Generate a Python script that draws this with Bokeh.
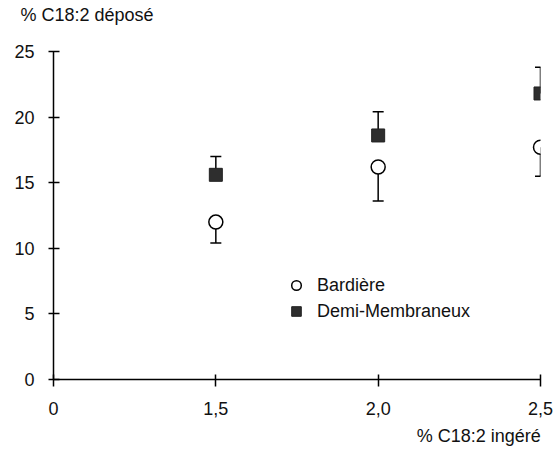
from bokeh.plotting import figure
from bokeh.models import (ColumnDataSource, Whisker, TeeHead, FixedTicker,
                          Legend, LegendItem, Range1d, LinearAxis)
from bokeh.embed import file_html
from bokeh.resources import INLINE

# ---- data ----
x_ingere = [1.5, 2.0, 2.5]
bardiere = [12.0, 16.2, 17.7]
bardiere_err = [1.6, 2.6, 2.2]
demi_membraneux = [15.6, 18.6, 21.8]
demi_membraneux_err = [1.4, 1.8, 2.0]
y_ticks = [0, 5, 10, 15, 20, 25]
x_ticks = [1.0, 1.5, 2.0, 2.5]
x_tick_labels = ["0", "1,5", "2,0", "2,5"]
series_names = ["Bardière", "Demi-Membraneux"]
y_title = "% C18:2 déposé"
x_title = "% C18:2 ingéré"

FONT = "Liberation Sans"
FS = "18px"
TXT = "#111111"

p = figure(width=560, height=454, output_backend="svg", toolbar_location=None,
           x_range=Range1d(1.0, 2.5), y_range=Range1d(0, 25),
           min_border_left=53, min_border_right=20, min_border_top=51,
           min_border_bottom=75)
p.outline_line_color = None
p.grid.visible = False
p.background_fill_color = "white"

# axes
for ax in (p.xaxis[0], p.yaxis[0]):
    ax.axis_line_color = "black"
    ax.axis_line_width = 1.5
    ax.major_tick_line_color = "black"
    ax.major_tick_line_width = 1.5
    ax.minor_tick_line_color = None
    ax.major_label_text_font = FONT
    ax.major_label_text_font_size = FS
    ax.major_label_text_color = TXT

p.xaxis.ticker = FixedTicker(ticks=x_ticks)
p.xaxis.major_label_overrides = {t: s for t, s in zip(x_ticks, x_tick_labels)}
p.xaxis.major_tick_in = 5
p.xaxis.major_tick_out = 7
p.xaxis.major_label_standoff = 15

p.yaxis.ticker = FixedTicker(ticks=y_ticks)
p.yaxis.major_tick_in = 6
p.yaxis.major_tick_out = 5
p.yaxis.major_label_standoff = 14


def caption_axis(pos, text, standoff):
    ax = LinearAxis(ticker=FixedTicker(ticks=[pos]),
                    major_label_overrides={pos: text})
    ax.axis_line_color = None
    ax.major_tick_line_color = None
    ax.minor_tick_line_color = None
    ax.major_tick_in = 0
    ax.major_tick_out = 0
    ax.major_label_standoff = standoff
    ax.major_label_text_font = FONT
    ax.major_label_text_font_size = FS
    ax.major_label_text_color = TXT
    return ax


# captions (y caption top-left, x caption bottom-right) as label-only axes
p.add_layout(caption_axis(1.103, y_title, 27), "above")
p.add_layout(caption_axis(2.31, x_title, 8), "below")

src_b = ColumnDataSource(dict(x=x_ingere, y=bardiere,
                              lo=[v - e for v, e in zip(bardiere, bardiere_err)]))
src_d = ColumnDataSource(dict(x=x_ingere, y=demi_membraneux,
                              hi=[v + e for v, e in zip(demi_membraneux, demi_membraneux_err)]))

wb = Whisker(source=src_b, base="x", upper="y", lower="lo", dimension="height",
             line_color="black", line_width=1.5, upper_head=None,
             lower_head=TeeHead(size=11, line_color="black", line_width=1.5))
wd = Whisker(source=src_d, base="x", upper="hi", lower="y", dimension="height",
             line_color="black", line_width=1.5, lower_head=None,
             upper_head=TeeHead(size=11, line_color="black", line_width=1.5))
p.add_layout(wb)
p.add_layout(wd)

rb = p.scatter("x", "y", source=src_b, marker="circle", size=14,
               fill_color="white", line_color="black", line_width=1.5)
rd = p.scatter("x", "y", source=src_d, marker="square", size=13,
               fill_color="#2e2e2e", line_color="#222222", line_width=1)

legend = Legend(items=[LegendItem(label=series_names[0], renderers=[rb]),
                       LegendItem(label=series_names[1], renderers=[rd])],
                location=(231, 56), orientation="vertical",
                border_line_color=None, background_fill_alpha=0,
                padding=0, margin=0, spacing=2, glyph_width=24, glyph_height=24,
                label_height=24, label_standoff=9,
                label_text_font=FONT, label_text_font_size=FS,
                label_text_color=TXT)
p.add_layout(legend)

open("out.html", "w").write(file_html(p, INLINE))
